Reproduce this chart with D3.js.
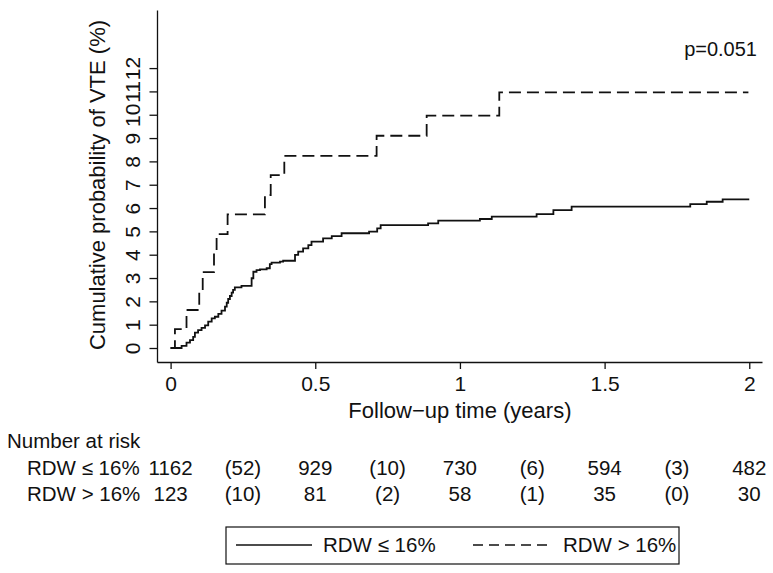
<!DOCTYPE html>
<html>
<head>
<meta charset="utf-8">
<script src="https://cdn.jsdelivr.net/npm/d3@7"></script>
<style>
  html, body { margin: 0; padding: 0; background: #fff; }
  svg { display: block; font-family: "Liberation Sans", Arial, Helvetica, sans-serif; }
</style>
</head>
<body>
<svg id="chart" width="773" height="573"></svg>
<script>
// ---- Data ----
const lowTime  = [0, 0.038, 0.055, 0.067, 0.078, 0.084, 0.095, 0.107, 0.119, 0.130, 0.142, 0.153, 0.165, 0.176, 0.188, 0.194, 0.199, 0.205, 0.211, 0.216, 0.222, 0.245, 0.280, 0.286, 0.297, 0.309, 0.332, 0.343, 0.349, 0.378, 0.389, 0.430, 0.441, 0.458, 0.476, 0.487, 0.527, 0.557, 0.591, 0.686, 0.714, 0.726, 0.890, 0.925, 1.069, 1.110, 1.265, 1.323, 1.386, 1.796, 1.853, 1.908, 2.0];
const lowValue = [0, 0.09, 0.23, 0.34, 0.48, 0.66, 0.77, 0.86, 0.97, 1.13, 1.27, 1.34, 1.46, 1.60, 1.77, 1.94, 2.10, 2.23, 2.37, 2.49, 2.60, 2.66, 2.99, 3.27, 3.34, 3.37, 3.42, 3.60, 3.66, 3.70, 3.74, 3.99, 4.13, 4.27, 4.41, 4.56, 4.70, 4.80, 4.92, 4.99, 5.13, 5.27, 5.34, 5.46, 5.53, 5.63, 5.74, 5.91, 6.06, 6.17, 6.27, 6.37, 6.37];

const highTime  = [0, 0.015, 0.055, 0.099, 0.111, 0.150, 0.159, 0.197, 0.326, 0.346, 0.393, 0.712, 0.885, 1.136, 1.997];
const highValue = [0, 0.81, 1.63, 2.44, 3.25, 4.07, 4.88, 5.73, 6.56, 7.41, 8.24, 9.10, 9.96, 10.96, 10.96];

const xTicks = [0, 0.5, 1, 1.5, 2];
const yTicks = [0, 1, 2, 3, 4, 5, 6, 7, 8, 9, 10, 11, 12];

const groupLabels = ["RDW \u2264 16%", "RDW > 16%"];
const riskLow    = [1162, 929, 730, 594, 482];
const eventsLow  = [52, 10, 6, 3];
const riskHigh   = [123, 81, 58, 35, 30];
const eventsHigh = [10, 2, 1, 0];
const pText = "p=0.051";

// ---- Layout ----
const svg = d3.select("#chart");
const x = d3.scaleLinear().domain([-0.047, 2.044]).range([157, 762]);
const y = d3.scaleLinear().domain([-0.6, 14.49]).range([362, 10]);

const FONT = "'Liberation Sans', Arial, sans-serif";

// axes
const xAxis = svg.append("g").attr("transform", "translate(0,362)")
  .call(d3.axisBottom(x).tickValues(xTicks).tickSize(7).tickSizeOuter(0).tickFormat(d => String(d)));
xAxis.selectAll("path, line").attr("stroke", "#111").attr("stroke-width", 1.3);
xAxis.selectAll("text").attr("y", 29).attr("dy", 0).attr("fill", "#111")
  .style("font-size", "21px").style("font-family", FONT);

const yAxis = svg.append("g").attr("transform", "translate(157,0)")
  .call(d3.axisLeft(y).tickValues(yTicks).tickSize(7.5).tickSizeOuter(0).tickFormat(d => String(d)));
yAxis.selectAll("path, line").attr("stroke", "#111").attr("stroke-width", 1.3);
yAxis.selectAll("text")
  .attr("transform", "rotate(-90)")
  .attr("x", 0).attr("y", -17.5).attr("dy", 0)
  .attr("text-anchor", "middle").attr("fill", "#111")
  .style("font-size", "21px").style("font-family", FONT);

// axis titles
svg.append("text")
  .attr("transform", "translate(105,185) rotate(-90)")
  .attr("text-anchor", "middle").attr("fill", "#111")
  .style("font-size", "22px")
  .text("Cumulative probability of VTE (%)");

svg.append("text")
  .attr("x", x(1)).attr("y", 418)
  .attr("text-anchor", "middle").attr("fill", "#111")
  .style("font-size", "22px")
  .text("Follow\u2212up time (years)");

// p-value
svg.append("text")
  .attr("x", 757).attr("y", 56)
  .attr("text-anchor", "end").attr("fill", "#111")
  .style("font-size", "20px")
  .text(pText);

// curves
const line = d3.line().curve(d3.curveStepAfter)
  .x(d => x(d[0])).y(d => y(d[1]));

svg.append("path")
  .datum(lowTime.map((t, i) => [t, lowValue[i]]))
  .attr("d", line).attr("fill", "none")
  .attr("stroke", "#111").attr("stroke-width", 1.8);

svg.append("path")
  .datum(highTime.map((t, i) => [t, highValue[i]]))
  .attr("d", line).attr("fill", "none")
  .attr("stroke", "#111").attr("stroke-width", 1.8)
  .attr("stroke-dasharray", "12,6");

// number at risk table
const tbl = svg.append("g").style("font-size", "20.5px").attr("fill", "#111");
tbl.append("text").attr("x", 7).attr("y", 448).text("Number at risk");

const rows = [
  { label: groupLabels[0], risk: riskLow, events: eventsLow, yy: 475 },
  { label: groupLabels[1], risk: riskHigh, events: eventsHigh, yy: 501 }
];
rows.forEach(r => {
  tbl.append("text").attr("x", 27).attr("y", r.yy).text(r.label);
  r.risk.forEach((v, i) => {
    tbl.append("text").attr("x", x(xTicks[i])).attr("y", r.yy)
      .attr("text-anchor", "middle").text(v);
  });
  r.events.forEach((v, i) => {
    tbl.append("text").attr("x", x((xTicks[i] + xTicks[i + 1]) / 2)).attr("y", r.yy)
      .attr("text-anchor", "middle").text("(" + v + ")");
  });
});

// legend
const lg = svg.append("g");
lg.append("rect").attr("x", 226).attr("y", 527).attr("width", 453).attr("height", 37)
  .attr("fill", "#fff").attr("stroke", "#111").attr("stroke-width", 1.2);
lg.append("line").attr("x1", 236).attr("x2", 312).attr("y1", 545).attr("y2", 545)
  .attr("stroke", "#111").attr("stroke-width", 1.5);
lg.append("text").attr("x", 323).attr("y", 552).attr("fill", "#111")
  .style("font-size", "20.5px").text(groupLabels[0]);
lg.append("line").attr("x1", 473).attr("x2", 547).attr("y1", 545).attr("y2", 545)
  .attr("stroke", "#111").attr("stroke-width", 1.5).attr("stroke-dasharray", "10,6");
lg.append("text").attr("x", 563).attr("y", 552).attr("fill", "#111")
  .style("font-size", "20.5px").text(groupLabels[1]);
</script>
</body>
</html>
